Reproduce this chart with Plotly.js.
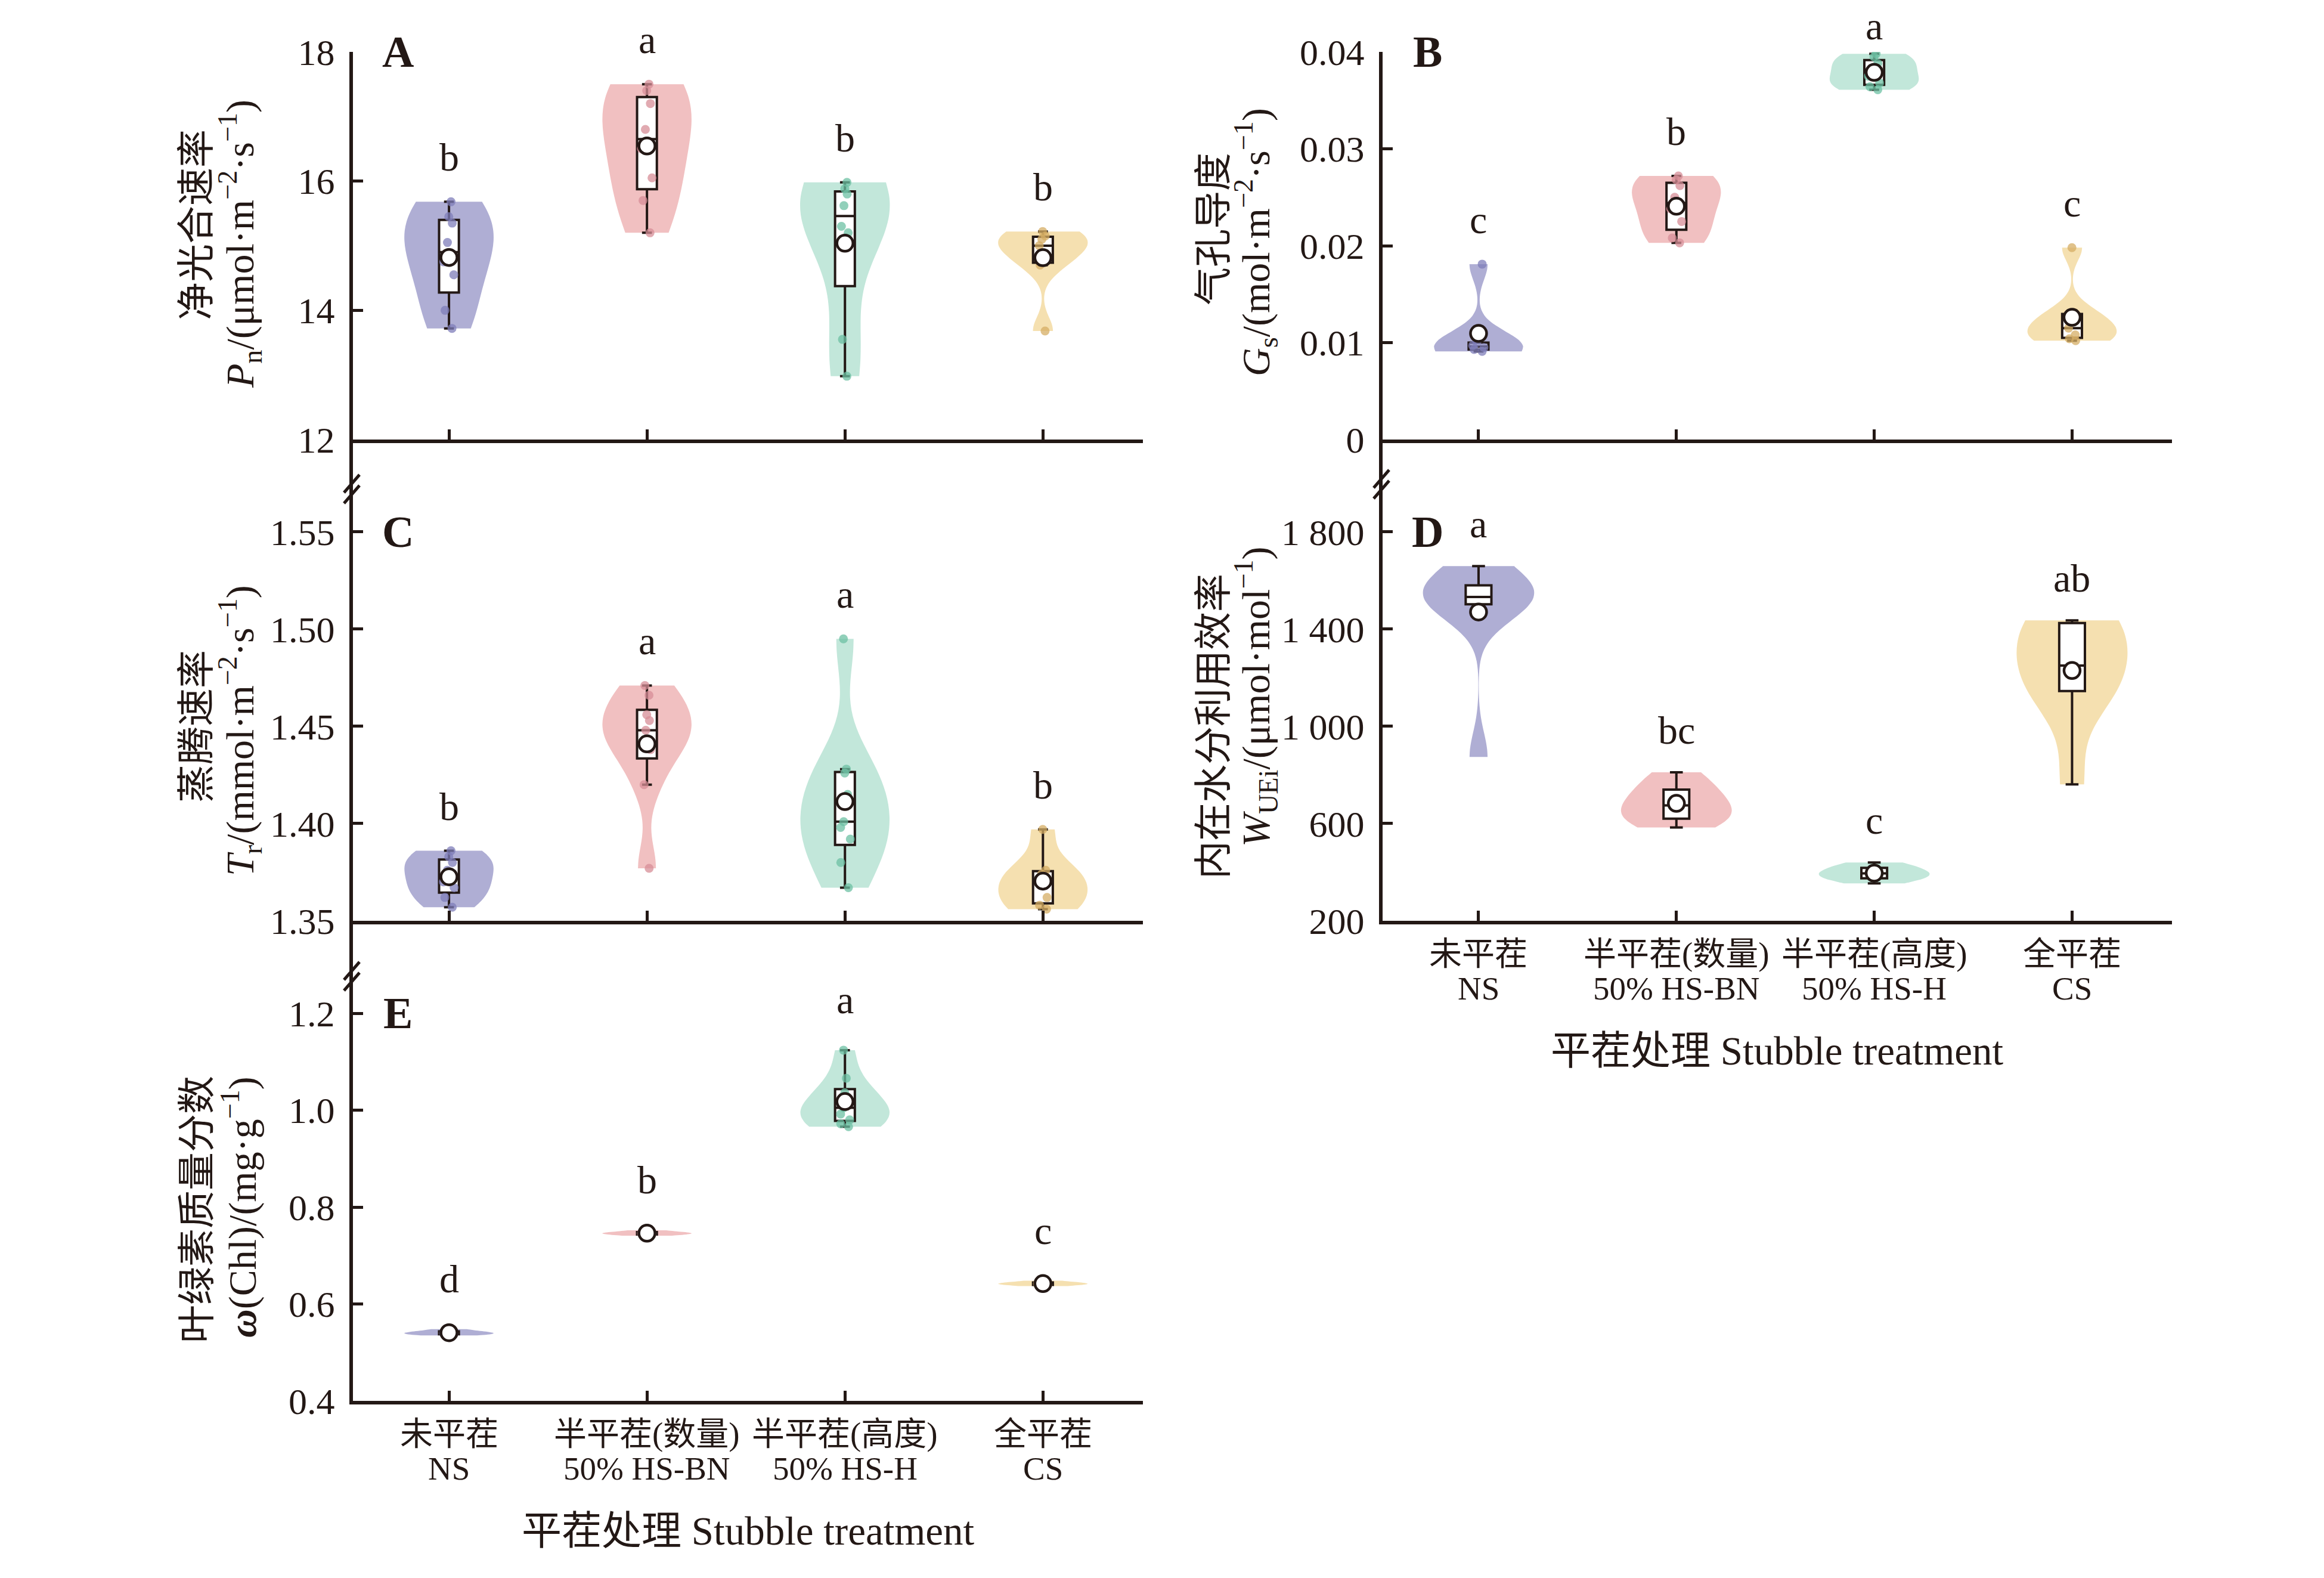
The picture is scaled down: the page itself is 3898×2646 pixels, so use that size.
<!DOCTYPE html>
<html>
<head>
<meta charset="utf-8">
<script src="https://cdn.plot.ly/plotly-3.0.1.min.js"></script>
<style>
  body { margin: 0; background: #fff; }
  #chart { width: 3898px; height: 2646px; }
</style>
</head>
<body>
<div id="chart"></div>
<script>
// treatments, in plotting order
var groups = ['NS', 'HS-BN', 'HS-H', 'CS'];
var catNamesCn = ['未平茬', '半平茬(数量)', '半平茬(高度)', '全平茬'];
var catNamesEn = ['NS', '50% HS-BN', '50% HS-H', 'CS'];

// A: net photosynthetic rate, one array per treatment
var pnValues = [
    [15.68, 15.45, 15.35, 15.05, 14.75, 14.55, 14.0, 13.72],
    [17.5, 17.4, 17.2, 16.8, 16.5, 16.05, 15.7, 15.2],
    [15.98, 15.88, 15.8, 15.62, 15.3, 15.2, 13.55, 12.98],
    [15.22, 15.15, 15.1, 15.0, 14.85, 14.7, 13.68]
];
var pnLetters = ['b', 'a', 'b', 'b'];

// B: stomatal conductance
var gsValues = [
    [0.0181, 0.0100, 0.0097, 0.0095, 0.0093, 0.0091],
    [0.0272, 0.0268, 0.0262, 0.0250, 0.0238, 0.0225, 0.0208, 0.0203],
    [0.0398, 0.0395, 0.0388, 0.0382, 0.0375, 0.0368, 0.0364, 0.0361],
    [0.0198, 0.0131, 0.0125, 0.0115, 0.0108, 0.0104, 0.0102]
];
var gsLetters = ['c', 'b', 'a', 'c'];

// C: transpiration rate
var trValues = [
    [1.386, 1.383, 1.380, 1.376, 1.370, 1.367, 1.362, 1.357],
    [1.471, 1.466, 1.456, 1.453, 1.448, 1.440, 1.438, 1.420, 1.377],
    [1.495, 1.428, 1.426, 1.415, 1.401, 1.398, 1.392, 1.380, 1.367],
    [1.397, 1.376, 1.374, 1.370, 1.362, 1.358, 1.356]
];
var trLetters = ['b', 'a', 'a', 'b'];

// D: intrinsic water use efficiency
var wueValues = [
    [1659, 1600, 1560, 1540, 1525, 1510, 1495, 874],
    [811, 760, 720, 690, 660, 630, 610, 584],
    [440, 425, 410, 400, 390, 380, 370, 354],
    [1436, 1430, 1420, 1300, 1200, 1150, 1140, 761]
];
var wueLetters = ['a', 'bc', 'c', 'ab'];

// E: chlorophyll content
var chlValues = [
    [0.548, 0.544, 0.542, 0.540, 0.539, 0.537, 0.535],
    [0.752, 0.749, 0.747, 0.746, 0.745, 0.743, 0.741],
    [0.966, 0.972, 0.980, 0.992, 1.005, 1.020, 1.036, 1.066, 1.124],
    [0.648, 0.645, 0.643, 0.642, 0.641, 0.639, 0.637]
];
var chlLetters = ['d', 'b', 'a', 'c'];

var fills = ['#afaed4', '#f1c0c1', '#c2e7da', '#f5e0b0'];
var dots = ['#7f7eb9', '#d78d97', '#6cc0a3', '#d5ad64'];
var ink = '#231815';
var serif = "'Liberation Serif', 'Times New Roman', 'Noto Sans CJK SC', serif";

var W = 3898, H = 2646;
function px(x) { return x / W; }
function py(y) { return 1 - y / H; }
function mean(xs) { return xs.reduce((a, b) => a + b, 0) / xs.length; }

var panels = [
    {tag: 'A', values: pnValues, letters: pnLetters, xs: [592, 1917], ys: [87, 737],
     range: [12, 18], tickvals: [12, 14, 16, 18], ticktext: ['12', '14', '16', '18'],
     cn: '净光合速率', unit: '<i>P</i><sub>n</sub>/(μmol·m<sup>−2</sup>·s<sup>−1</sup>)',
     t1: [330, 377], t2: [402, 409], shift: 36, bw: []},
    {tag: 'B', values: gsValues, letters: gsLetters, xs: [2319, 3643], ys: [87, 737],
     range: [0, 0.04], tickvals: [0, 0.01, 0.02, 0.03, 0.04], ticktext: ['0', '0.01', '0.02', '0.03', '0.04'],
     cn: '气孔导度', unit: '<i>G</i><sub>s</sub>/(mol·m<sup>−2</sup>·s<sup>−1</sup>)',
     t1: [2036, 384], t2: [2106, 406], shift: 36, bw: [0.0016]},
    {tag: 'C', values: trValues, letters: trLetters, xs: [592, 1917], ys: [737, 1544],
     range: [1.35, 1.5975], tickvals: [1.35, 1.40, 1.45, 1.50, 1.55], ticktext: ['1.35', '1.40', '1.45', '1.50', '1.55'],
     cn: '蒸腾速率', unit: '<i>T</i><sub>r</sub>/(mmol·m<sup>−2</sup>·s<sup>−1</sup>)',
     t1: [330, 1218], t2: [402, 1225], shift: 36, bw: [], breakAt: 820},
    {tag: 'D', values: wueValues, letters: wueLetters, xs: [2319, 3643], ys: [737, 1544],
     range: [200, 2180], tickvals: [200, 600, 1000, 1400, 1800], ticktext: ['200', '600', '1 000', '1 400', '1 800'],
     cn: '内在水分利用效率', unit: '<i>W</i><sub>UEi</sub>/(μmol·mol<sup>−1</sup>)',
     t1: [2036, 1218], t2: [2106, 1168], shift: 32, bw: [100], breakAt: 812, cats: true, wide: true},
    {tag: 'E', values: chlValues, letters: chlLetters, xs: [592, 1917], ys: [1544, 2349],
     range: [0.4, 1.391], tickvals: [0.4, 0.6, 0.8, 1.0, 1.2], ticktext: ['0.4', '0.6', '0.8', '1.0', '1.2'],
     cn: '叶绿素质量分数', unit: '<b><i>ω</i></b>(Chl)/(mg·g<sup>−1</sup>)',
     t1: [330, 2028], t2: [402, 2024], shift: 46, bw: [], breakAt: 1637, cats: true}
];

var data = [];
var layout = {
    width: W, height: H,
    margin: {l: 0, r: 0, t: 0, b: 0},
    paper_bgcolor: '#ffffff',
    plot_bgcolor: 'rgba(0,0,0,0)',
    showlegend: false,
    violinmode: 'overlay',
    boxmode: 'overlay',
    font: {family: serif, color: ink, size: 60},
    annotations: [],
    shapes: []
};

function note(x, y, text, size, extra) {
    var a = {xref: 'paper', yref: 'paper', x: px(x), y: py(y), text: text, showarrow: false,
             xanchor: 'center', yanchor: 'middle', font: {family: serif, size: size, color: ink}};
    return Object.assign(a, extra || {});
}

panels.forEach(function (p, i) {
    var n = i === 0 ? '' : String(i + 1);
    var xa = 'x' + n, ya = 'y' + n;
    var vWidth = p.wide ? 0.56 : 0.45;
    var bWidth = p.wide ? 0.13 : 0.1;
    var xr = [-0.485, 3.505];

    p.values.forEach(function (vals, g) {
        var violin = {
            type: 'violin', x0: g, y: vals, xaxis: xa, yaxis: ya,
            width: vWidth, spanmode: 'hard', points: false,
            box: {visible: false}, meanline: {visible: false},
            fillcolor: fills[g], line: {width: 0, color: fills[g]},
            hoverinfo: 'skip', name: groups[g]
        };
        if (p.bw[g]) violin.bandwidth = p.bw[g];
        data.push(violin);
        data.push({
            type: 'box', x0: g, y: vals, xaxis: xa, yaxis: ya,
            width: bWidth, fillcolor: '#ffffff',
            line: {color: ink, width: 4}, whiskerwidth: 0.5,
            boxpoints: p.wide ? 'outliers' : 'all', jitter: 0.7, pointpos: 0,
            marker: {color: dots[g], size: 15, opacity: p.wide ? 0 : 0.75},
            hoverinfo: 'skip', name: groups[g]
        });

        // significance letter, kept inside the page at the very top
        var top = Math.max.apply(null, vals);
        var pix = p.ys[0] + (p.range[1] - top) / (p.range[1] - p.range[0]) * (p.ys[1] - p.ys[0]);
        layout.annotations.push({
            xref: xa, yref: ya, x: g, y: top,
            text: p.letters[g], showarrow: false, yanchor: 'bottom',
            yshift: Math.min(p.shift, pix - 82),
            font: {family: serif, size: 66, color: ink}
        });

        if (p.cats) {
            var cx = p.xs[0] + (g - xr[0]) / (xr[1] - xr[0]) * (p.xs[1] - p.xs[0]);
            layout.annotations.push(note(cx, p.ys[1] + 55, catNamesCn[g], 55));
            layout.annotations.push(note(cx, p.ys[1] + 113, catNamesEn[g], 55));
        }
    });

    data.push({
        type: 'scatter', mode: 'markers', xaxis: xa, yaxis: ya,
        x: [0, 1, 2, 3], y: p.values.map(mean),
        marker: {symbol: 'circle', size: 27, color: '#ffffff', line: {color: ink, width: 4.5}},
        hoverinfo: 'skip'
    });

    layout['xaxis' + n] = {
        domain: [px(p.xs[0]), px(p.xs[1])], anchor: ya,
        range: xr, tickvals: [0, 1, 2, 3], showticklabels: false,
        ticks: 'inside', ticklen: 17, tickwidth: 5, tickcolor: ink,
        showline: true, linecolor: ink, linewidth: 6,
        showgrid: false, zeroline: false
    };
    layout['yaxis' + n] = {
        domain: [py(p.ys[1]), py(p.ys[0])], anchor: xa,
        range: p.range, tickvals: p.tickvals, ticktext: p.ticktext,
        ticks: 'inside', ticklen: 17, tickwidth: 5, tickcolor: ink,
        showline: true, linecolor: ink, linewidth: 6,
        showgrid: false, zeroline: false, ticklabelstandoff: 12,
        tickfont: {family: serif, size: 62, color: ink}
    };

    // panel letter
    layout.annotations.push(note(p.xs[0] + 75, p.ys[0] + (p.ys[0] < 100 ? 0 : 155),
                                 '<b>' + p.tag + '</b>', 74));
    // two-line y title, one annotation per line
    layout.annotations.push(note(p.t1[0], p.t1[1], p.cn, 64, {textangle: -90}));
    layout.annotations.push(note(p.t2[0], p.t2[1], p.unit, 66, {textangle: -90}));
    // x title under the bottom panels
    if (p.cats) {
        layout.annotations.push(note((p.xs[0] + p.xs[1]) / 2, p.ys[1] + 218,
                                     '平茬处理 Stubble treatment', 67));
    }
    // axis break marks on the shared left spine
    if (p.breakAt) {
        [-9, 9].forEach(function (d) {
            var bx = p.xs[0] - 2, by = p.breakAt + d;
            layout.shapes.push({
                type: 'line', xref: 'paper', yref: 'paper',
                x0: px(bx - 13), y0: py(by + 15), x1: px(bx + 13), y1: py(by - 15),
                line: {color: ink, width: 5}
            });
        });
    }
});

Plotly.newPlot('chart', data, layout, {displayModeBar: false, staticPlot: true});
</script>
</body>
</html>
